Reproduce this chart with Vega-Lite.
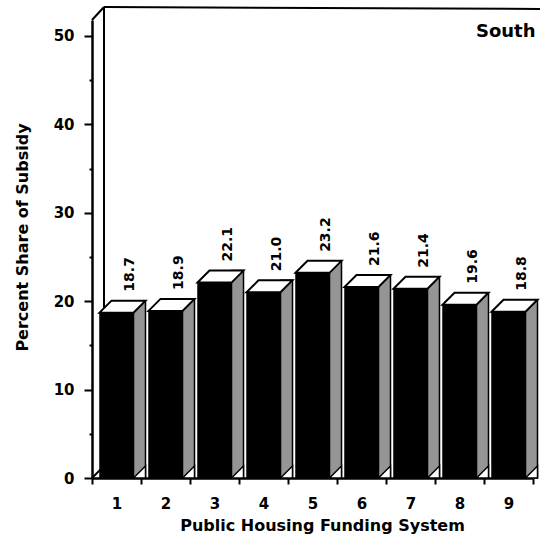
{
  "$schema": "https://vega.github.io/schema/vega-lite/v6.json",
  "width": 441,
  "height": 458,
  "autosize": {"type": "none"},
  "padding": {"left": 92, "top": 20, "right": 7, "bottom": 59},
  "background": "white",
  "config": {"view": {"stroke": null}, "font": "DejaVu Sans"},
  "data": {"values": [
    {"system": 1, "share": 18.7},
    {"system": 2, "share": 18.9},
    {"system": 3, "share": 22.1},
    {"system": 4, "share": 21.0},
    {"system": 5, "share": 23.2},
    {"system": 6, "share": 21.6},
    {"system": 7, "share": 21.4},
    {"system": 8, "share": 19.6},
    {"system": 9, "share": 18.8}
  ]},
  "layer": [
    {
      "mark": {"type": "bar", "width": 34, "color": "black"},
      "encoding": {
        "x": {"field": "system", "type": "ordinal", "scale": {"type": "band", "paddingInner": 0, "paddingOuter": 0},
          "axis": {"title": "Public Housing Funding System", "titleFont": "DejaVu Sans", "titleFontSize": 16, "titleFontWeight": "bold", "titleColor": "black", "titleX": 230, "titleY": 47, "titleBaseline": "middle",
            "labelAngle": 0, "labelFont": "DejaVu Sans", "labelFontSize": 15, "labelFontWeight": "bold", "labelColor": "black", "labelPadding": 12, "labelBaseline": "top",
            "tickBand": "extent", "tickSize": 6, "tickWidth": 2, "tickColor": "black", "domainColor": "black", "domainWidth": 2.5, "grid": false}},
        "y": {"field": "share", "type": "quantitative", "scale": {"domain": [0, 51.8], "nice": false, "zero": true},
          "axis": {"title": "Percent Share of Subsidy", "titleFont": "DejaVu Sans", "titleFontSize": 16, "titleFontWeight": "bold", "titleColor": "black", "titleX": -70, "titleY": 217, "titleAngle": -90, "titleBaseline": "middle",
            "values": [0, 5, 10, 15, 20, 25, 30, 35, 40, 45, 50],
            "labelExpr": "datum.value % 10 === 0 ? datum.label : ''",
            "labelFont": "DejaVu Sans", "labelFontSize": 15, "labelFontWeight": "bold", "labelColor": "black", "labelPadding": 10,
            "tickSize": {"condition": {"test": "datum.value % 10 === 0", "value": 8}, "value": 3},
            "tickWidth": 2, "tickColor": "black", "domainColor": "black", "domainWidth": 2.5, "grid": false}}
      }
    },
    {
      "data": {"values": [{"wall": "back"}]},
      "mark": {"type": "rule", "color": "black", "strokeWidth": 2, "xOffset": -12.5, "x2Offset": -12.5, "yOffset": -12, "y2Offset": -13},
      "encoding": {"x": {"datum": 1, "type": "ordinal"}, "x2": {"datum": 1}, "y": {"datum": 0, "type": "quantitative"}, "y2": {"datum": 51.8}}
    },
    {
      "data": {"values": [{"wall": "top"}]},
      "mark": {"type": "rule", "color": "black", "strokeWidth": 2, "xOffset": -12.5, "x2Offset": 40, "yOffset": -13, "y2Offset": -11},
      "encoding": {"x": {"datum": 1, "type": "ordinal"}, "x2": {"datum": 9}, "y": {"datum": 51.8, "type": "quantitative"}, "y2": {"datum": 51.8}}
    },
    {
      "data": {"values": [{"wall": "corner"}]},
      "mark": {"type": "rule", "color": "black", "strokeWidth": 2, "xOffset": -24.5, "x2Offset": -12.5, "yOffset": 0, "y2Offset": -13},
      "encoding": {"x": {"datum": 1, "type": "ordinal"}, "x2": {"datum": 1}, "y": {"datum": 51.8, "type": "quantitative"}, "y2": {"datum": 51.8}}
    },
    {
      "data": {"values": [{"wall": "floor"}]},
      "mark": {"type": "rule", "color": "black", "strokeWidth": 2, "xOffset": -24.5, "x2Offset": -12.5, "yOffset": 0, "y2Offset": -12},
      "encoding": {"x": {"datum": 1, "type": "ordinal"}, "x2": {"datum": 1}, "y": {"datum": 0, "type": "quantitative"}, "y2": {"datum": 0}}
    },
    {
      "data": {"values": [{"label": "South"}]},
      "mark": {"type": "text", "align": "right", "baseline": "alphabetic", "xOffset": 27, "yOffset": 1, "font": "DejaVu Sans", "fontSize": 18, "fontWeight": "bold", "color": "black"},
      "encoding": {"x": {"datum": 9, "type": "ordinal"}, "y": {"datum": 50, "type": "quantitative"}, "text": {"field": "label"}}
    },
    {
      "mark": {"type": "bar", "width": 12, "xOffset": 23, "yOffset": -12, "fill": "#959595", "stroke": "black", "strokeWidth": 1.5},
      "encoding": {"x": {"field": "system", "type": "ordinal"}, "y": {"field": "share", "type": "quantitative"}, "y2": {"datum": 0}}
    },
    {
      "mark": {"type": "bar", "width": 34, "color": "black"},
      "encoding": {"x": {"field": "system", "type": "ordinal"}, "y": {"field": "share", "type": "quantitative"}}
    },
    {
      "mark": {"type": "point", "shape": "M17,0 L29,0 L29,-12 Z", "size": 4, "filled": true, "fill": "white", "stroke": "black", "strokeWidth": 1.5, "opacity": 1},
      "encoding": {"x": {"field": "system", "type": "ordinal"}, "y": {"datum": 0, "type": "quantitative"}}
    },
    {
      "mark": {"type": "point", "shape": "M-17,0 L17,0 L29,-12 L-5,-12 Z", "size": 4, "filled": true, "fill": "white", "stroke": "black", "strokeWidth": 2, "opacity": 1},
      "encoding": {"x": {"field": "system", "type": "ordinal"}, "y": {"field": "share", "type": "quantitative"}}
    },
    {
      "mark": {"type": "text", "angle": -90, "align": "left", "baseline": "middle", "xOffset": 13.5, "yOffset": -21, "font": "DejaVu Sans", "fontSize": 14, "fontWeight": "bold", "color": "black"},
      "encoding": {"x": {"field": "system", "type": "ordinal"}, "y": {"field": "share", "type": "quantitative"}, "text": {"field": "share", "type": "quantitative", "format": ".1f"}}
    }
  ]
}
